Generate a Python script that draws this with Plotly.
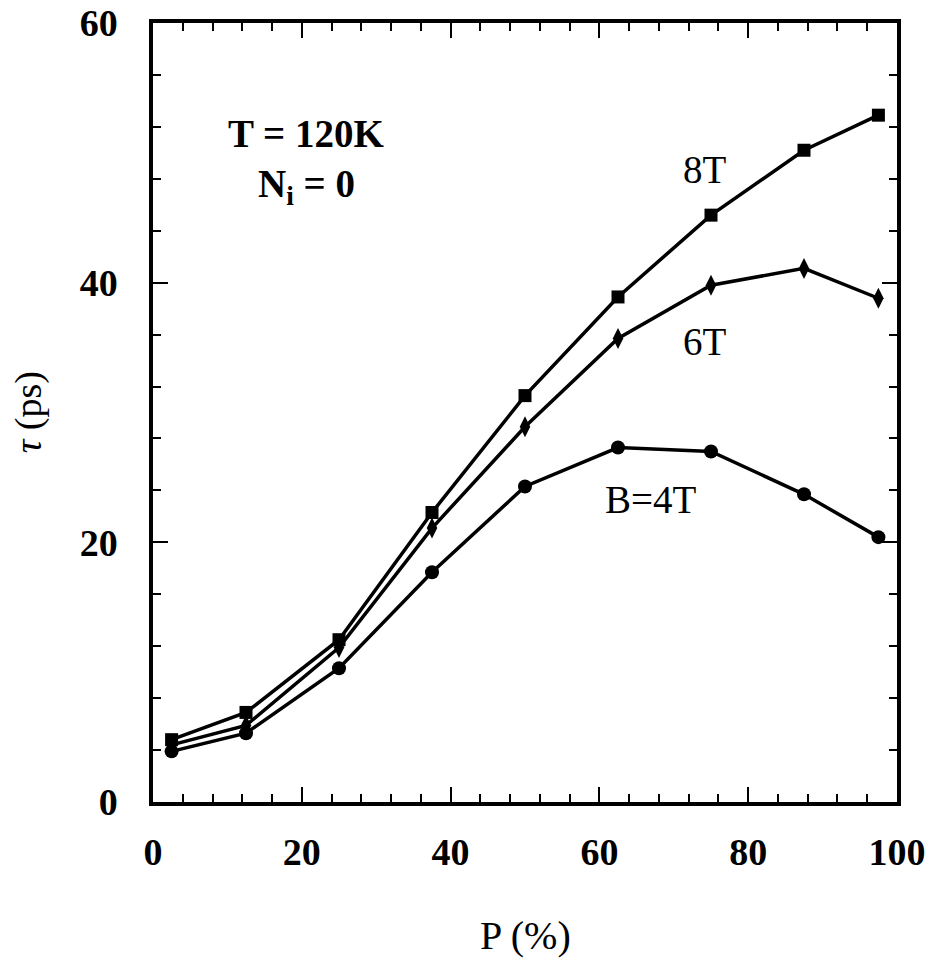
import plotly.graph_objects as go

# Polarization P (%) and relaxation time tau (ps) for three magnetic fields
p_percent = [2.5, 12.5, 25, 37.5, 50, 62.5, 75, 87.5, 97.5]
tau_8T = [4.8, 6.9, 12.5, 22.3, 31.3, 38.9, 45.2, 50.2, 52.9]
tau_6T = [4.4, 5.9, 11.9, 21.1, 28.9, 35.7, 39.8, 41.1, 38.8]
tau_4T = [3.9, 5.3, 10.3, 17.7, 24.3, 27.3, 27.0, 23.7, 20.4]

x_ticks = [0, 20, 40, 60, 80, 100]
y_ticks = [0, 20, 40, 60]

FONT = "Liberation Serif"

fig = go.Figure()

series = [
    ("8T", tau_8T, "square", 13),
    ("6T", tau_6T, "diamond-tall", 15),
    ("B=4T", tau_4T, "circle", 14),
]
for name, vals, sym, size in series:
    fig.add_trace(go.Scatter(
        x=p_percent, y=vals, mode="lines+markers", name=name,
        line=dict(color="black", width=3.5),
        marker=dict(symbol=sym, size=size, color="black"),
        showlegend=False,
    ))

axis_common = dict(
    showline=True, linecolor="black", linewidth=3.5, mirror="allticks",
    ticks="inside", ticklen=15, tickwidth=2, tickcolor="black",
    showgrid=False, zeroline=False, automargin=False,
    tickfont=dict(family=FONT, size=38, color="black", weight="bold"),
    minor=dict(ticks="inside", ticklen=8, tickwidth=2, tickcolor="black", dtick=4),
)

fig.update_xaxes(range=[0, 100], tickvals=x_ticks, ticklabelstandoff=14, **axis_common)
fig.update_yaxes(range=[0, 60], tickvals=y_ticks, ticklabelstandoff=24, **axis_common)

# Axis titles placed in paper coordinates
fig.add_annotation(
    x=0.501, y=-0.171, xref="paper", yref="paper", text="P (%)", showarrow=False,
    xanchor="center", yanchor="middle",
    font=dict(family=FONT, size=40, color="black"),
)
fig.add_annotation(
    x=-0.167, y=0.50, xref="paper", yref="paper", text="<i>τ</i> (ps)", showarrow=False,
    xanchor="center", yanchor="middle", textangle=-90,
    font=dict(family=FONT, size=38, color="black"),
)

annotations = [
    dict(x=20.6, y=51.5, text="T = 120K", weight="bold", size=39),
    dict(x=20.6, y=47.4, text="N<sub>i</sub> = 0", weight="bold", size=39),
    dict(x=74.2, y=48.7, text="8T", weight="normal", size=39),
    dict(x=74.2, y=35.5, text="6T", weight="normal", size=39),
    dict(x=66.9, y=23.3, text="B=4T", weight="normal", size=39),
]
for a in annotations:
    fig.add_annotation(
        x=a["x"], y=a["y"], xref="x", yref="y", text=a["text"], showarrow=False,
        xanchor="center", yanchor="middle",
        font=dict(family=FONT, size=a["size"], color="black", weight=a["weight"]),
    )

fig.update_layout(
    width=929, height=958,
    margin=dict(l=153, r=32, t=23, b=156),
    paper_bgcolor="white", plot_bgcolor="white",
)

fig.write_html("out.html")
